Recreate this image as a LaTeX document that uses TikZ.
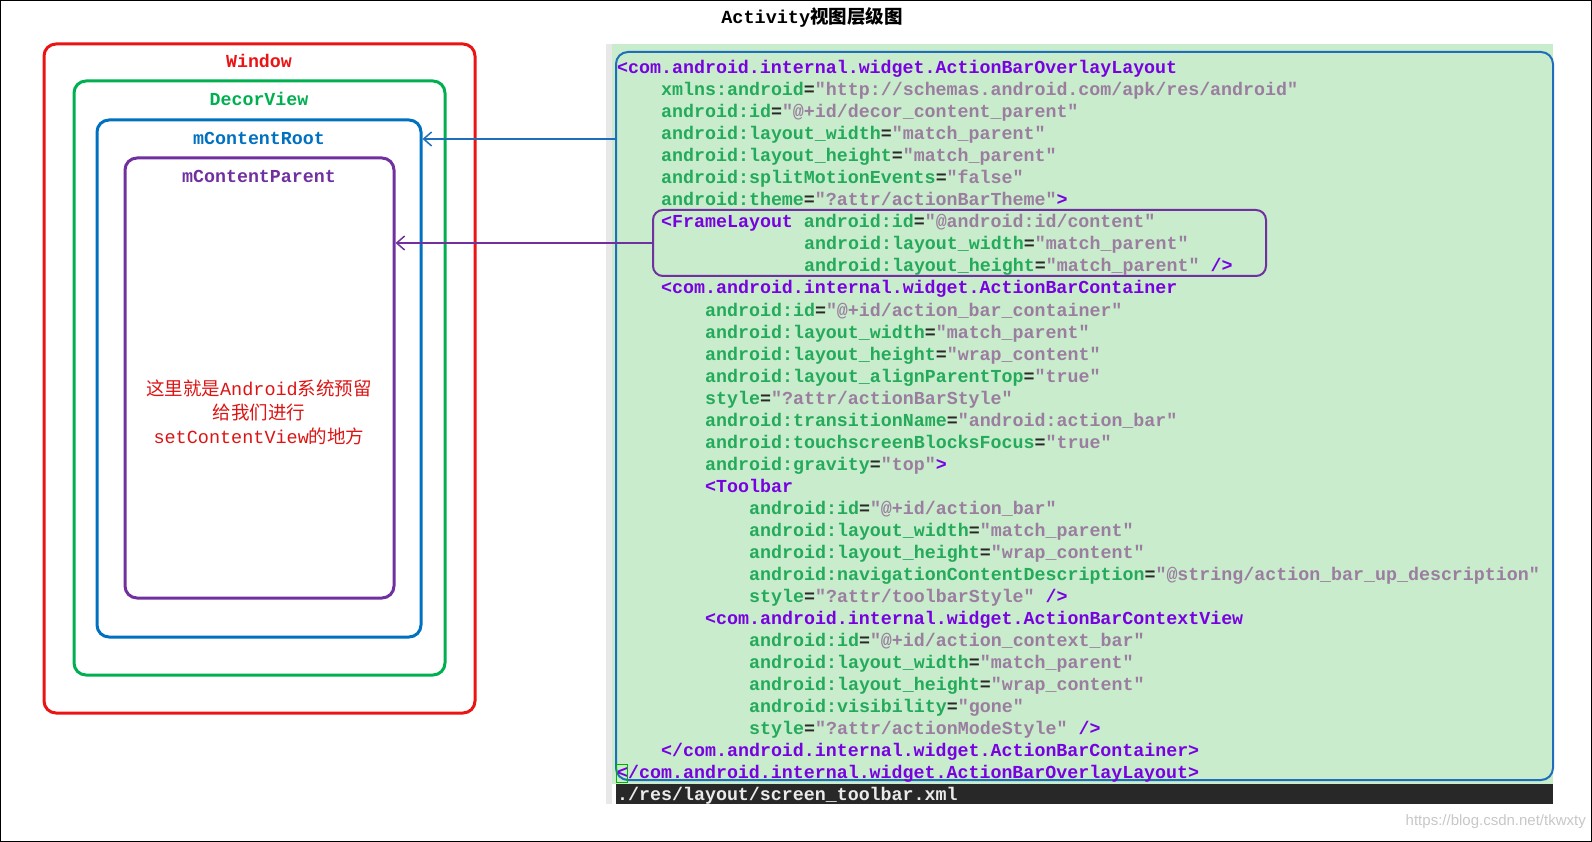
\documentclass[tikz,border=0pt]{standalone}
\usepackage{fontspec}
\usetikzlibrary{arrows.meta, positioning}
\newfontfamily\codefont{Liberation Mono}
\newfontfamily\cjk{Noto Sans CJK SC}
\newfontfamily\markfont{Liberation Sans}

\definecolor{tagc}{RGB}{120,0,225}
\definecolor{attc}{RGB}{35,170,90}
\definecolor{valc}{RGB}{155,125,160}
\definecolor{eqc}{RGB}{40,40,40}
\definecolor{codebg}{RGB}{200,236,204}
\definecolor{codeblue}{RGB}{30,110,185}
\definecolor{barc}{RGB}{40,40,40}
\definecolor{winred}{RGB}{235,20,20}
\definecolor{decgreen}{RGB}{0,176,80}
\definecolor{rootblue}{RGB}{0,112,192}
\definecolor{parpurple}{RGB}{112,48,160}
\definecolor{notered}{RGB}{220,20,20}

\newcommand{\xtag}[1]{{\color{tagc}#1}}
\newcommand{\xattr}[1]{{\color{attc}#1}}
\newcommand{\xval}[1]{{\color{valc}"#1"}}
\newcommand{\kv}[2]{\xattr{#1}{\color{eqc}=}\xval{#2}}

\tikzset{
  code/.style={anchor=base west, inner sep=0pt, font=\codefont\bfseries\fontsize{18.3}{22}\selectfont},
  viewbox/.style={draw, rounded corners=12pt, line width=3pt, inner sep=0pt},
  boxlabel/.style={anchor=base, inner sep=0pt, font=\codefont\bfseries\fontsize{18.3}{22}\selectfont},
}

\begin{document}
\begin{tikzpicture}[x=1pt, y=-1pt, >={Straight Barb[length=8pt,width=14pt]}]
  \useasboundingbox (0,0) rectangle (1592,842);
  \draw[line width=1pt] (0.5,0.5) rectangle (1591.5,841.5);

  \node[boxlabel, font=\codefont\bfseries\fontsize{18.5}{22}\selectfont] (title) at (812,24) {Activity{\cjk 视图层级图}};

  % view hierarchy
  \node[viewbox, draw=winred, minimum width=431pt, minimum height=669pt] (window) at (259.5,378.5) {};
  \node[viewbox, draw=decgreen, minimum width=371pt, minimum height=594pt] (decor) at (259.5,378) {};
  \node[viewbox, draw=rootblue, minimum width=324pt, minimum height=517pt] (root) at (259,378.5) {};
  \node[viewbox, draw=parpurple, minimum width=269pt, minimum height=440pt] (parent) at (259.5,378) {};

  \node[boxlabel, text=winred] (winlbl) at (259,68) {Window};
  \node[boxlabel, text=decgreen] (decorlbl) at (259,106) {DecorView};
  \node[boxlabel, text=rootblue] (rootlbl) at (259,145) {mContentRoot};
  \node[boxlabel, text=parpurple] (parentlbl) at (259,183) {mContentParent};

  \node[text=notered, align=center, font=\codefont\fontsize{18.5}{24}\selectfont] (note) at (259,412)
    {{\cjk 这里就是}Android{\cjk 系统预留}\\{\cjk 给我们进行}\\setContentView{\cjk 的地方}};

  % xml panel
  \fill[codebg] (612,44) rectangle (1553,784);
  \fill[gray!18] (606,44) rectangle (612,804);
  \fill[barc] (616,784) rectangle (1553,804);
  \node[draw=codeblue, rounded corners=12pt, line width=2pt, minimum width=937pt, minimum height=728pt, inner sep=0pt] (codebox) at (1084.5,416) {};
  \node[draw=parpurple, rounded corners=10pt, line width=2pt, minimum width=613pt, minimum height=66pt, inner sep=0pt] (frame) at (959.5,243) {};

  \foreach \ind/\txt [count=\i from 0] in {
    0/{\xtag{<com.android.internal.widget.ActionBarOverlayLayout}},
    4/{\kv{xmlns:android}{http://schemas.android.com/apk/res/android}},
    4/{\kv{android:id}{@+id/decor\_content\_parent}},
    4/{\kv{android:layout\_width}{match\_parent}},
    4/{\kv{android:layout\_height}{match\_parent}},
    4/{\kv{android:splitMotionEvents}{false}},
    4/{\kv{android:theme}{?attr/actionBarTheme}\xtag{>}},
    4/{\xtag{<FrameLayout} \kv{android:id}{@android:id/content}},
    17/{\kv{android:layout\_width}{match\_parent}},
    17/{\kv{android:layout\_height}{match\_parent} \xtag{/>}},
    4/{\xtag{<com.android.internal.widget.ActionBarContainer}},
    8/{\kv{android:id}{@+id/action\_bar\_container}},
    8/{\kv{android:layout\_width}{match\_parent}},
    8/{\kv{android:layout\_height}{wrap\_content}},
    8/{\kv{android:layout\_alignParentTop}{true}},
    8/{\kv{style}{?attr/actionBarStyle}},
    8/{\kv{android:transitionName}{android:action\_bar}},
    8/{\kv{android:touchscreenBlocksFocus}{true}},
    8/{\kv{android:gravity}{top}\xtag{>}},
    8/{\xtag{<Toolbar}},
    12/{\kv{android:id}{@+id/action\_bar}},
    12/{\kv{android:layout\_width}{match\_parent}},
    12/{\kv{android:layout\_height}{wrap\_content}},
    12/{\kv{android:navigationContentDescription}{@string/action\_bar\_up\_description}},
    12/{\kv{style}{?attr/toolbarStyle} \xtag{/>}},
    8/{\xtag{<com.android.internal.widget.ActionBarContextView}},
    12/{\kv{android:id}{@+id/action\_context\_bar}},
    12/{\kv{android:layout\_width}{match\_parent}},
    12/{\kv{android:layout\_height}{wrap\_content}},
    12/{\kv{android:visibility}{gone}},
    12/{\kv{style}{?attr/actionModeStyle} \xtag{/>}},
    4/{\xtag{</com.android.internal.widget.ActionBarContainer>}},
    0/{\xtag{</com.android.internal.widget.ActionBarOverlayLayout>}}}
    \node[code] (l\i) at (617+\ind*11, 74+\i*22) {\txt};
  \draw[green!70!black, line width=0.8pt] (616,764) rectangle (627,782);

  \node[code, text=white!92!black] (path) at (617,800) {./res/layout/screen\_toolbar.xml};

  \node[anchor=east, inner sep=0pt, text=black!22, font=\markfont\fontsize{15}{18}\selectfont] (mark) at (1586,822) {https://blog.csdn.net/tkwxty};

  % links
  \draw[->, codeblue, line width=1.5pt] (codebox.west |- rootlbl.center) -- (rootlbl.center -| root.east);
  \draw[->, parpurple, line width=1.5pt] (frame.west) -- (frame.west -| parent.east);
\end{tikzpicture}
\end{document}
